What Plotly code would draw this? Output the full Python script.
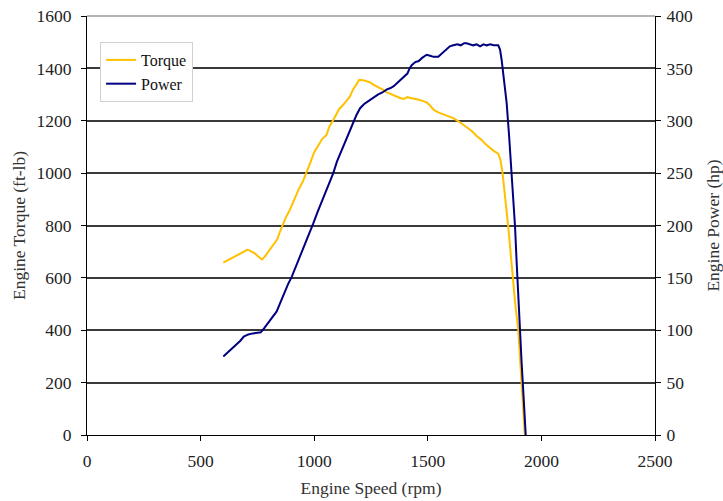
import plotly.graph_objects as go

# Torque curve (rpm, ft-lb)
torque_rpm = [600, 615, 630, 645, 660, 675, 690, 705, 715, 725, 740, 750, 760, 770, 780, 790, 805, 820, 838, 850,
              860, 875, 893, 910, 930, 950, 966, 985, 1000, 1018, 1035, 1054, 1068, 1084, 1100, 1110, 1125, 1140,
              1157, 1170, 1185, 1198, 1215, 1230, 1245, 1260, 1280, 1304, 1320, 1340, 1360, 1378, 1395, 1410, 1425,
              1440, 1460, 1480, 1495, 1510, 1525, 1546, 1570, 1597, 1612, 1635, 1656, 1675, 1695, 1715, 1735, 1755,
              1773, 1790, 1810, 1820, 1829, 1842, 1854, 1864, 1873, 1885, 1898, 1906, 1913, 1920, 1927]
torque_val = [658, 665, 672, 680, 688, 695, 700, 707, 705, 700, 693, 684, 675, 670, 678, 690, 707, 725, 748, 778,
              800, 830, 860, 895, 935, 968, 1000, 1045, 1080, 1108, 1130, 1146, 1180, 1203, 1230, 1245, 1258, 1275,
              1292, 1318, 1340, 1356, 1355, 1352, 1347, 1338, 1330, 1318, 1308, 1300, 1293, 1287, 1283, 1290, 1287,
              1285, 1280, 1275, 1270, 1258, 1242, 1232, 1225, 1217, 1210, 1198, 1184, 1172, 1160, 1142, 1128, 1110,
              1096, 1085, 1074, 1050, 1000, 900, 796, 700, 605, 500, 402, 300, 198, 100, 0]

# Power curve (rpm, hp)
power_rpm = [600, 620, 640, 658, 675, 690, 710, 730, 750, 765, 780, 798, 815, 835, 850, 870, 885, 901, 920, 935,
             952, 970, 985, 996, 1015, 1033, 1050, 1068, 1084, 1100, 1115, 1128, 1145, 1160, 1172, 1185, 1202, 1220,
             1240, 1260, 1280, 1300, 1320, 1334, 1350, 1370, 1392, 1410, 1420, 1429, 1445, 1460, 1475, 1495, 1510,
             1525, 1546, 1560, 1575, 1597, 1612, 1630, 1645, 1660, 1671, 1685, 1700, 1715, 1730, 1745, 1759, 1775,
             1790, 1810, 1818, 1825, 1836, 1847, 1858, 1869, 1877, 1884, 1891, 1898, 1906, 1913, 1922, 1931]
power_val = [75, 79, 83, 86, 90, 94, 96, 97, 97.5, 98, 102, 107, 112, 118, 126, 137, 144, 151, 161, 169,
             177, 187, 195, 202, 213, 223, 232, 241, 250, 261, 269, 275, 285, 292, 298, 305, 312, 316,
             319, 322, 325, 327, 330, 331, 333, 337, 341, 345, 350, 353, 356, 357, 360, 363, 362,
             361, 361, 364, 367, 371, 372, 373, 372, 374, 374, 373, 372, 373, 371, 373, 372, 373,
             372, 372, 368, 358, 340, 317, 285, 250, 225, 199, 165, 132, 100, 69, 35, 0]

FONT = "Liberation Serif"
TICK = dict(family=FONT, size=17.5, color="#222")
TITLE = dict(family=FONT, size=17.5, color="#333")

fig = go.Figure()
fig.add_trace(go.Scatter(x=torque_rpm, y=torque_val, mode="lines", name="Torque",
                         line=dict(color="#FFC000", width=2)))
fig.add_trace(go.Scatter(x=power_rpm, y=power_val, mode="lines", name="Power", yaxis="y2",
                         line=dict(color="#000080", width=2)))

axis_common = dict(showline=True, linecolor="black", linewidth=1, ticks="outside", ticklen=5,
                   tickcolor="black", tickfont=TICK, zeroline=False, automargin=False)

fig.update_layout(
    width=723, height=501,
    margin=dict(l=87, r=68, t=16, b=66),
    paper_bgcolor="white", plot_bgcolor="white",
    font=dict(family=FONT, color="#222"),
    showlegend=True,
    legend=dict(x=0.023, y=0.938, xanchor="left", yanchor="top",
                bgcolor="white", bordercolor="#d0d0d0", borderwidth=1,
                font=dict(family=FONT, size=16, color="#111"),
                tracegroupgap=0, itemwidth=30),
    xaxis=dict(range=[0, 2500], dtick=500, showgrid=False, ticklabelstandoff=5,
               title=dict(text="Engine Speed (rpm)", font=TITLE, standoff=11),
               **axis_common),
    yaxis=dict(range=[0, 1600], dtick=200, showgrid=True, gridcolor="#3a3a3a", gridwidth=1.5,
               ticklabelstandoff=6,
               title=dict(text="Engine Torque (ft-lb)", font=TITLE, standoff=6),
               **axis_common),
    yaxis2=dict(range=[0, 400], dtick=50, overlaying="y", side="right", showgrid=False,
                ticklabelstandoff=2,
                title=dict(text="Engine Power (hp)", font=TITLE, standoff=15),
                **axis_common),
    shapes=[dict(type="line", xref="paper", yref="paper", x0=0, x1=1, y0=1, y1=1,
                 line=dict(color="#9a9a9a", width=1.5), layer="above")],
)

fig.write_html("out.html")
